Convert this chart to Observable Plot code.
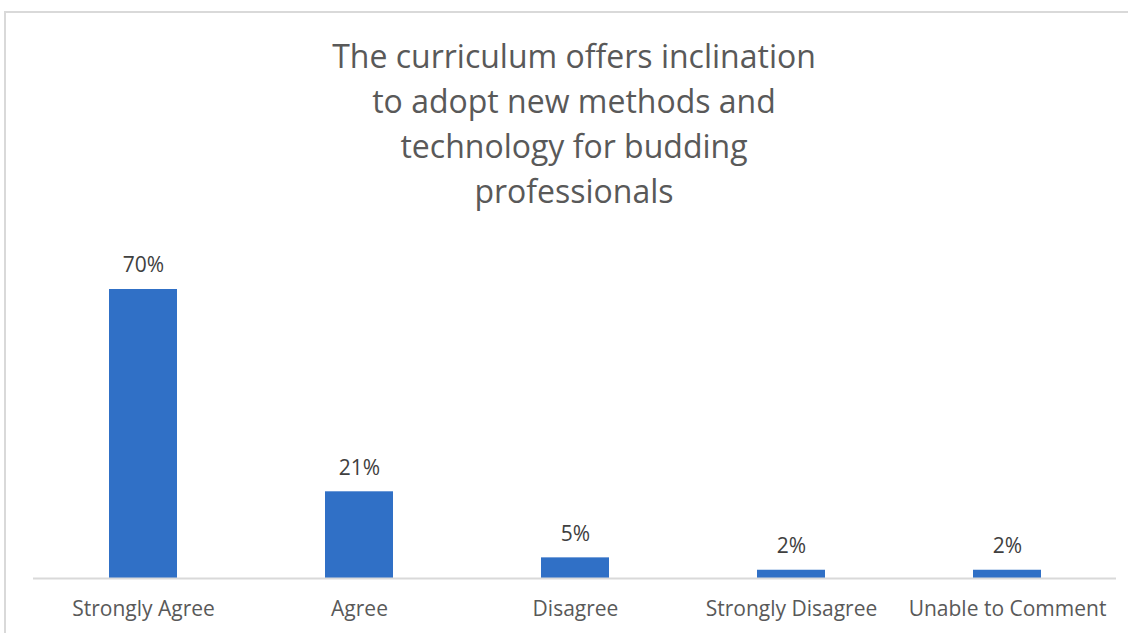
<!DOCTYPE html>
<html>
<head>
<meta charset="utf-8">
<script src="https://cdn.jsdelivr.net/npm/d3@7"></script>
<script src="https://cdn.jsdelivr.net/npm/@observablehq/plot@0.6"></script>
<style>
  html, body { margin: 0; padding: 0; background: #fff; }
  #wrap { position: relative; width: 1128px; height: 633px; overflow: hidden; font-family: "Open Sans", sans-serif; }
  #frame { position: absolute; left: 4px; top: 11px; width: 1140px; height: 700px; border: 2px solid #d9d9d9; box-sizing: border-box; }
  #title { position: absolute; left: 0; top: 33px; width: 1148px; text-align: center; color: #595959; font-size: 32px; line-height: 45px; }
  #chart { position: absolute; left: 0; top: 0; }
</style>
</head>
<body>
<div id="wrap">
  <div id="frame"></div>
  <div id="chart"></div>
  <div id="title">The curriculum offers inclination<br>to adopt new methods and<br>technology for budding<br>professionals</div>
</div>
<script>
const categories = ["Strongly Agree", "Agree", "Disagree", "Strongly Disagree", "Unable to Comment"];
const values = [70, 21, 5, 2, 2];
const labels = ["70%", "21%", "5%", "2%", "2%"];

const data = categories.map((c, i) => ({category: c, value: values[i], label: labels[i]}));

const chart = Plot.plot({
  width: 1128,
  height: 633,
  marginLeft: 33,
  marginRight: 12,
  marginTop: 289,
  marginBottom: 55,
  style: {background: "transparent", fontFamily: "'Open Sans', sans-serif"},
  x: {domain: categories, paddingInner: 0.686, paddingOuter: 0.343, label: null},
  y: {domain: [0, 70], axis: null},
  marks: [
    Plot.barY(data, {x: "category", y: "value", fill: "#3070C6"}),
    Plot.ruleY([0], {stroke: "#d9d9d9", strokeWidth: 2}),
    Plot.text(data, {x: "category", y: "value", text: "label", dy: -24, fontSize: 21, fill: "#404040"}),
    Plot.axisX({tickSize: 0, tickPadding: 23, fontSize: 21, color: "#595959", label: null})
  ]
});
document.getElementById("chart").appendChild(chart);
</script>
</body>
</html>
